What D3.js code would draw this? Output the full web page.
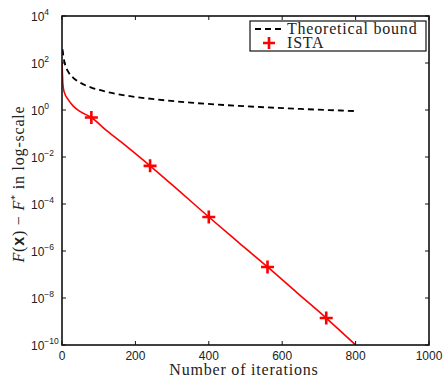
<!DOCTYPE html>
<html lang="en">
<head>
  <meta charset="UTF-8">
  <title>ISTA convergence</title>
  <script src="https://d3js.org/d3.v7.min.js"></script>
  <style>
    body { margin: 0; background: #fff; }
    .tick-label { font-family: "Liberation Sans", Arial, sans-serif; font-size: 12px; fill: #222; }
    .serif { font-family: "Liberation Serif", "DejaVu Serif", serif; font-size: 16px; fill: #222; letter-spacing: 0.8px; }
  </style>
</head>
<body>
  <svg width="447" height="378"></svg>
  <script>
    // values
    const boundIter = [1, 2, 4, 8, 16, 30, 50, 80, 120, 180, 250, 350, 450, 550, 650, 800];
    const boundVal = [380, 330, 180, 90, 45, 24, 14.4, 9, 6, 4, 2.9, 2.06, 1.6, 1.31, 1.11, 0.9];

    const istaIter = [0, 1, 2, 4, 8, 16, 30, 50, 80, 120, 160, 240, 320, 400, 480, 560, 640, 720, 800];
    const istaVal = [112, 40, 16, 8, 4.8, 2.9, 1.5, 0.85, 0.48, 0.14, 0.045, 4.2e-3, 3.5e-4, 2.8e-5, 2.4e-6, 2.1e-7, 1.7e-8, 1.4e-9, 1e-10];
    const markerIter = [80, 240, 400, 560, 720];

    const xTicks = [0, 200, 400, 600, 800, 1000];
    const yExps = [-10, -8, -6, -4, -2, 0, 2, 4];

    const svg = d3.select("svg");
    const pl = 62, pr = 429, pt = 16, pb = 345;

    const x = d3.scaleLinear().domain([0, 1000]).range([pl, pr]);
    const y = d3.scaleLog().domain([1e-10, 1e4]).range([pb, pt]);

    const bound = boundIter.map((k, i) => ({k, v: boundVal[i]}));
    const ista = istaIter.map((k, i) => ({k, v: istaVal[i]}));
    const markers = markerIter.map(k => ({k, v: ista.find(d => d.k === k).v}));

    const line = d3.line().x(d => x(d.k)).y(d => y(d.v)).curve(d3.curveMonotoneX);

    svg.append("clipPath").attr("id", "clip")
      .append("rect").attr("x", pl).attr("y", pt)
      .attr("width", pr - pl).attr("height", pb - pt);

    const plot = svg.append("g").attr("clip-path", "url(#clip)");

    plot.append("path").datum(bound)
      .attr("d", line)
      .attr("fill", "none").attr("stroke", "#000")
      .attr("stroke-width", 1.8).attr("stroke-dasharray", "6,4");

    plot.append("path").datum(ista)
      .attr("d", line)
      .attr("fill", "none").attr("stroke", "#f00")
      .attr("stroke-width", 1.6);

    const plus = (g, cx, cy, s) => {
      g.append("path")
        .attr("d", `M${cx - s},${cy}H${cx + s}M${cx},${cy - s}V${cy + s}`)
        .attr("stroke", "#f00").attr("stroke-width", 2.6).attr("fill", "none");
    };
    markers.forEach(d => plus(plot, x(d.k), y(d.v), 6.5));

    // axes box with inward ticks on all sides
    const axes = svg.append("g");
    axes.append("rect").attr("x", pl).attr("y", pt)
      .attr("width", pr - pl).attr("height", pb - pt)
      .attr("fill", "none").attr("stroke", "#111").attr("stroke-width", 1.6);

    xTicks.forEach(t => {
      axes.append("path")
        .attr("d", `M${x(t)},${pb}v-4M${x(t)},${pt}v4`)
        .attr("stroke", "#111").attr("stroke-width", 1);
      axes.append("text").attr("class", "tick-label")
        .attr("x", x(t)).attr("y", pb + 15)
        .attr("text-anchor", "middle").text(t);
    });

    yExps.forEach(e => {
      const yy = y(Math.pow(10, e));
      axes.append("path")
        .attr("d", `M${pl},${yy}h4M${pr},${yy}h-4`)
        .attr("stroke", "#111").attr("stroke-width", 1);
      const t = axes.append("text").attr("class", "tick-label")
        .attr("x", 31).attr("y", yy + 4.5);
      t.append("tspan").text("10");
      t.append("tspan").attr("dy", -6).attr("font-size", 8.5)
        .text(e < 0 ? "\u2212" + (-e) : e);
    });

    svg.append("text").attr("class", "serif")
      .attr("x", 244).attr("y", 375)
      .attr("text-anchor", "middle").text("Number of iterations");

    const yl = svg.append("text").attr("class", "serif")
      .attr("transform", `translate(24,184) rotate(-90)`)
      .attr("text-anchor", "middle");
    yl.append("tspan").attr("font-style", "italic").text("F");
    yl.append("tspan").text("(");
    yl.append("tspan").attr("font-weight", "bold").attr("font-family", "Liberation Sans, sans-serif").text("x");
    yl.append("tspan").text(") \u2212 ");
    yl.append("tspan").attr("font-style", "italic").text("F");
    yl.append("tspan").attr("dy", -6).attr("font-size", 10).text("*");
    yl.append("tspan").attr("dy", 6).text(" in log-scale");

    // legend
    const lg = svg.append("g");
    lg.append("rect").attr("x", 250).attr("y", 21).attr("width", 176).attr("height", 30)
      .attr("fill", "#fff").attr("stroke", "#111").attr("stroke-width", 1.2);
    lg.append("path").attr("d", "M255,29H284")
      .attr("stroke", "#000").attr("stroke-width", 1.8).attr("stroke-dasharray", "6,4");
    lg.append("text").attr("class", "serif").attr("x", 287).attr("y", 34).text("Theoretical bound");
    plus(lg, 269, 43, 6);
    lg.append("text").attr("class", "serif").attr("x", 287).attr("y", 48).text("ISTA");
  </script>
</body>
</html>
